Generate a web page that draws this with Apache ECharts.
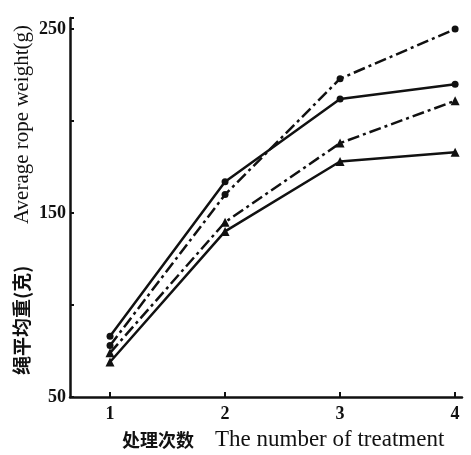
<!DOCTYPE html>
<html><head><meta charset="utf-8">
<script src="https://cdn.jsdelivr.net/npm/echarts@6/dist/echarts.min.js"></script>
<style>html,body{margin:0;padding:0;background:#fff}#c{width:471px;height:455px}</style>
</head><body><div id="c"></div>
<script>
const treatments = [1, 2, 3, 4];
const solidCircle = [83, 167, 212, 220];
const dashCircle = [78, 160, 223, 250];
const dashTriangle = [74, 145, 188, 211];
const solidTriangle = [69, 140, 178, 183];
const yLabels = [50, 150, 250];

const pair = arr => treatments.map((t, i) => [t, arr[i]]);
const serif = '"Liberation Serif", "DejaVu Serif", serif';
const ink = '#111';

function mk(data, dashed, sym, size) {
  return {
    type: 'line', data: pair(data), symbol: sym, symbolSize: size,
    lineStyle: { color: ink, width: 2.5, type: dashed ? [12, 4, 3, 4] : 'solid' },
    itemStyle: { color: ink }, animation: false
  };
}

const chart = echarts.init(document.getElementById('c'));
chart.setOption({
  animation: false,
  grid: { left: 70, right: 9, top: 18, bottom: 58 },
  xAxis: {
    type: 'value', min: 0.652, max: 4.06,
    axisLine: { lineStyle: { color: ink, width: 2.5 } },
    axisTick: { show: true, inside: true, length: 5, customValues: treatments, lineStyle: { color: ink, width: 2 } },
    axisLabel: { customValues: treatments, margin: 8, color: ink, fontFamily: serif, fontSize: 18, fontWeight: 'bold' },
    splitLine: { show: false }
  },
  yAxis: {
    type: 'value', min: 50, max: 256, interval: 50,
    axisLine: { show: true, lineStyle: { color: ink, width: 2.5 } },
    axisTick: { show: true, inside: true, length: 4, lineStyle: { color: ink, width: 2 } },
    axisLabel: {
      margin: 4, color: ink, fontFamily: serif, fontSize: 18, fontWeight: 'bold',
      formatter: v => (yLabels.indexOf(v) >= 0 ? String(v) : '')
    },
    splitLine: { show: false }
  },
  series: [
    mk(solidCircle, false, 'circle', 7),
    mk(dashCircle, true, 'circle', 7),
    mk(dashTriangle, true, 'triangle', 9),
    mk(solidTriangle, false, 'triangle', 9)
  ],
  graphic: [
    { type: 'text', x: 122, y: 440, style: { text: '处理次数', font: 'bold 18px "Noto Sans CJK SC"', fill: ink, verticalAlign: 'middle' } },
    { type: 'text', x: 215, y: 440, style: { text: 'The number of treatment', font: '23px ' + serif, fill: ink, verticalAlign: 'middle' } },
    { type: 'text', x: 22, y: 375, rotation: Math.PI / 2, style: { text: '绳平均重(克)', font: 'bold 19px "Noto Sans CJK SC"', fill: ink, verticalAlign: 'middle', align: 'left' } },
    { type: 'text', x: 22, y: 224, rotation: Math.PI / 2, style: { text: 'Average rope weight(g)', font: '21px ' + serif, fill: ink, verticalAlign: 'middle', align: 'left' } }
  ]
});
</script></body></html>
